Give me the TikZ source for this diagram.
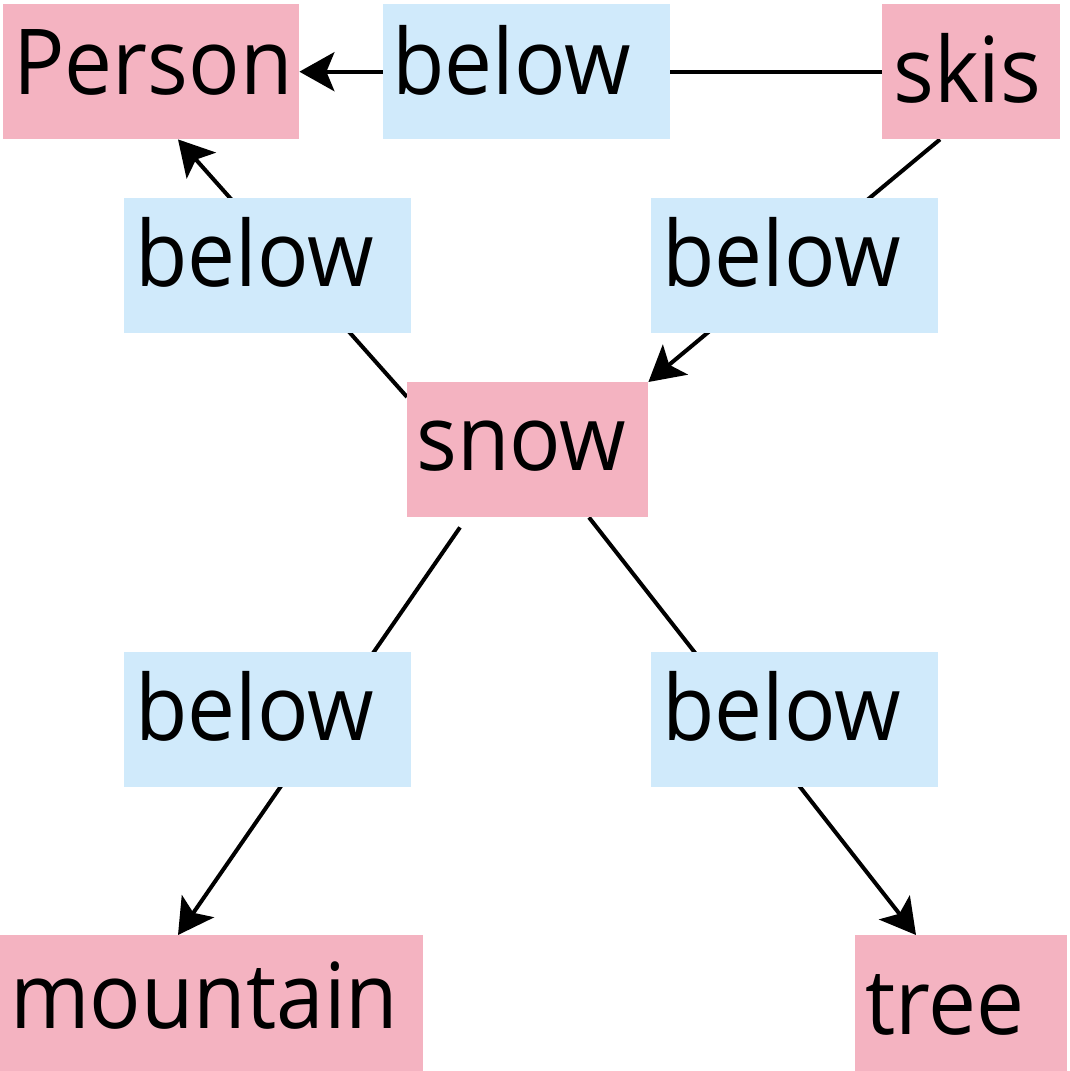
\documentclass[tikz,border=0pt]{standalone}
\usepackage{fontspec}
\newfontfamily\labelfont{Open Sans}[FakeStretch=0.94]
\usetikzlibrary{arrows.meta,backgrounds}
\definecolor{entpink}{RGB}{244,179,193}
\definecolor{relblue}{RGB}{208,234,251}
\tikzset{
  ent/.style={fill=entpink, rectangle, inner sep=0pt, anchor=north west,
    minimum height=135pt, text depth=0pt, align=left,
    font={\labelfont\fontsize{91pt}{94pt}\selectfont}},
  rel/.style={ent, fill=relblue, text width=287pt},
  edge/.style={line width=4pt, draw=black},
  arr/.style={edge, -{Stealth[length=35pt,width=39pt,inset=8pt]}},
}
\begin{document}
\begin{tikzpicture}[x=1pt,y=-1pt]
\useasboundingbox (0,0) rectangle (1070,1071);
% entity nodes
\node[ent, text width=296pt, text height=45pt] (person) at (3,4) {\hspace*{10pt}\mbox{Person}};
\node[ent, text width=178pt, text height=61pt] (skis) at (882,4) {\hspace*{11pt}\mbox{skis}};
\node[ent, text width=241pt, text height=41pt] (snow) at (407,382) {\hspace*{9pt}\mbox{snow}};
\node[ent, text width=423pt, minimum height=136pt, text height=50pt] (mountain) at (0,935) {\hspace*{10pt}\mbox{mountain}};
\node[ent, text width=212pt, minimum height=136pt, text height=62pt] (tree) at (855,935) {\hspace*{10pt}\mbox{tree}};
% relation nodes
\node[rel, text height=45pt] (btop) at (383,4) {\hspace*{9pt}\mbox{below}};
\node[rel, text height=42pt] (bl1) at (124,198) {\hspace*{11pt}\mbox{below}};
\node[rel, text height=42pt] (br1) at (651,198) {\hspace*{11pt}\mbox{below}};
\node[rel, text height=42pt] (bl2) at (124,652) {\hspace*{11pt}\mbox{below}};
\node[rel, text height=42pt] (br2) at (651,652) {\hspace*{11pt}\mbox{below}};
% connectors
\begin{scope}[on background layer]
\draw[arr] (skis.west) -- (person.east);
\draw[arr] ([xshift=58pt]skis.south west) -- (snow.north east);
\draw[arr] ([yshift=-15pt]snow.north west) -- ([xshift=175pt]person.south west);
\draw[arr] ([xshift=53pt,yshift=-10pt]snow.south west) -- ([xshift=178pt]mountain.north west);
\draw[arr] ([xshift=182pt]snow.south west) -- ([xshift=61pt]tree.north west);
\end{scope}
\end{tikzpicture}
\end{document}
